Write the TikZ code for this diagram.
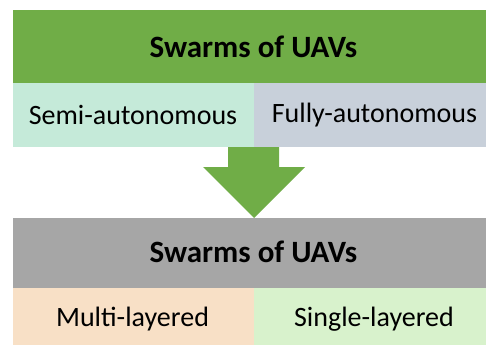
\documentclass[tikz,border=0pt]{standalone}
\usepackage{fontspec}
\setmainfont{Carlito}
\definecolor{cgreen}{HTML}{70AD47}
\definecolor{cteal}{HTML}{C5EAD9}
\definecolor{cblue}{HTML}{C8D0DA}
\definecolor{cgray}{HTML}{A6A6A6}
\definecolor{cpeach}{HTML}{F8E0C6}
\definecolor{clgreen}{HTML}{D8F2CC}
\begin{document}
\begin{tikzpicture}[x=1pt,y=1pt,
  ttl/.style={font=\fontsize{31}{36}\selectfont\bfseries,inner sep=0pt},
  sub/.style={font=\fontsize{28}{33}\selectfont,inner sep=0pt}]
\useasboundingbox (0,0) rectangle (486,346);
% top
\fill[cgreen] (13,336) rectangle (486,263);
\node[ttl] (t1) at (253.5,299.5) {Swarms of UAVs};
\fill[cteal] (13,263) rectangle (254,199);
\fill[cblue] (254,263) rectangle (486,199);
\node[sub] (a1) at (133,231) {Semi-autonomous};
\node[sub] (a2) at (374.5,231) {Fully-autonomous};
% arrow
\fill[cgreen] (228,199) -- (279,199) -- (279,179) -- (305,179) -- (254,128) -- (203,179) -- (228,179) -- cycle;
% bottom
\fill[cgray] (13,128) rectangle (486,58);
\node[ttl] (t2) at (253.5,94) {Swarms of UAVs};
\fill[cpeach] (13,58) rectangle (254,1);
\fill[clgreen] (254,58) rectangle (486,1);
\node[sub] (b1) at (132.5,27) {Multi-layered};
\node[sub] (b2) at (374,27) {Single-layered};
\end{tikzpicture}
\end{document}
